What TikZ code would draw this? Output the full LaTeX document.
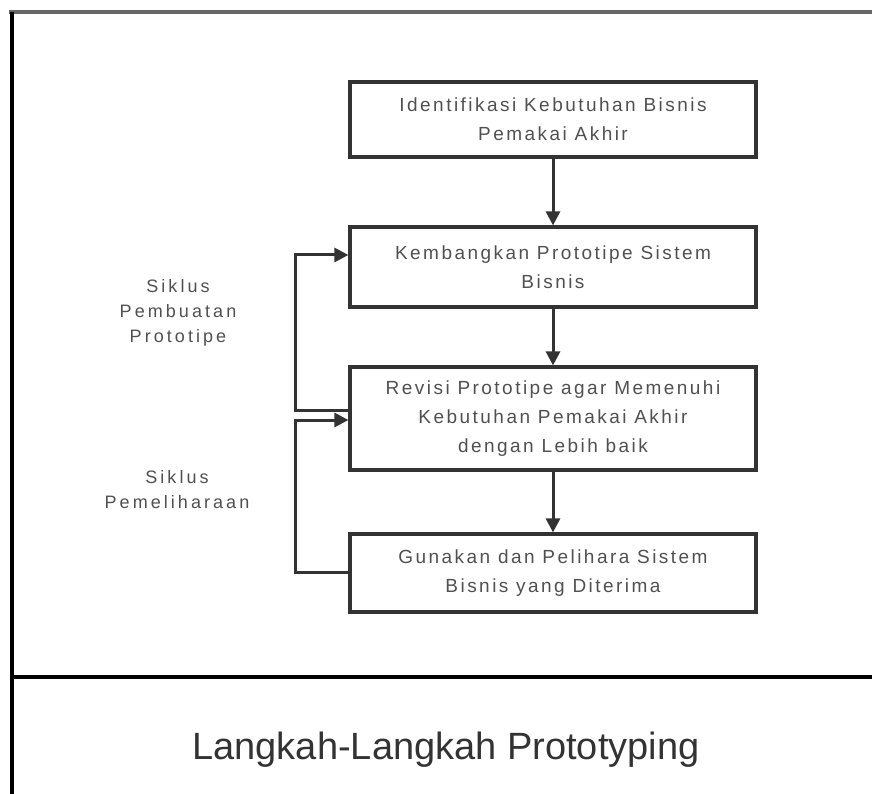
\documentclass[tikz,border=0pt]{standalone}
\usepackage{fontspec}
\setmainfont{Liberation Sans}
\newfontfamily\boxfont[LetterSpace=13]{Liberation Sans}
\newfontfamily\labfont[LetterSpace=17]{Liberation Sans}
\usetikzlibrary{arrows.meta}
\definecolor{boxline}{HTML}{333333}
\definecolor{boxtext}{HTML}{505050}
\tikzset{
  stepbox/.style={draw=boxline, line width=3.2pt, minimum width=406pt, inner sep=0pt,
    align=center, text=boxtext, font=\boxfont\fontsize{19}{29}\selectfont},
  flow/.style={draw=boxline, line width=3pt, -{Triangle[length=14pt,width=14pt]}},
  sidelabel/.style={align=center, text=boxtext, font=\labfont\fontsize{18}{25}\selectfont},
  frame/.style={line width=3.5pt},
}
\begin{document}
\begin{tikzpicture}[x=1pt,y=-1pt]
\useasboundingbox (0,0) rectangle (872,794);
% frame
\draw[frame, draw=gray!80!black, line width=4.5pt] (9,12) -- (872,12);
\draw[frame] (12,12) -- (12,794);
\draw[frame] (12,677) -- (872,677);
% boxes
\node[stepbox, minimum height=75pt] (b1) at (553,119.5) {Identifikasi Kebutuhan Bisnis\\Pemakai Akhir};
\node[stepbox, minimum height=80pt] (b2) at (553,267) {Kembangkan Prototipe Sistem\\Bisnis};
\node[stepbox, minimum height=103pt] (b3) at (553,418.5) {Revisi Prototipe agar Memenuhi\\Kebutuhan Pemakai Akhir\\dengan Lebih baik};
\node[stepbox, minimum height=78pt] (b4) at (553,573) {Gunakan dan Pelihara Sistem\\Bisnis yang Diterima};
% arrows
\draw[flow] (b1.south) -- (b2.north);
\draw[flow] (b2.south) -- (b3.north);
\draw[flow] (b3.south) -- (b4.north);
% loops
\coordinate (l1) at (295,255);
\coordinate (l2) at (295,420);
\draw[flow] (b3.west |- 0,410) -| (l1) -- (b2.west |- l1);
\draw[flow] (b4.west |- 0,572) -| (l2) -- (b3.west |- l2);
% labels
\node[sidelabel] (s1) at (178,313) {Siklus\\Pembuatan\\Prototipe};
\node[sidelabel] (s2) at (177,490) {Siklus\\Pemeliharaan};
\node[text=black!80, font=\fontsize{38}{44}\selectfont] (cap) at (446,750) {Langkah-Langkah Prototyping};
\end{tikzpicture}
\end{document}
